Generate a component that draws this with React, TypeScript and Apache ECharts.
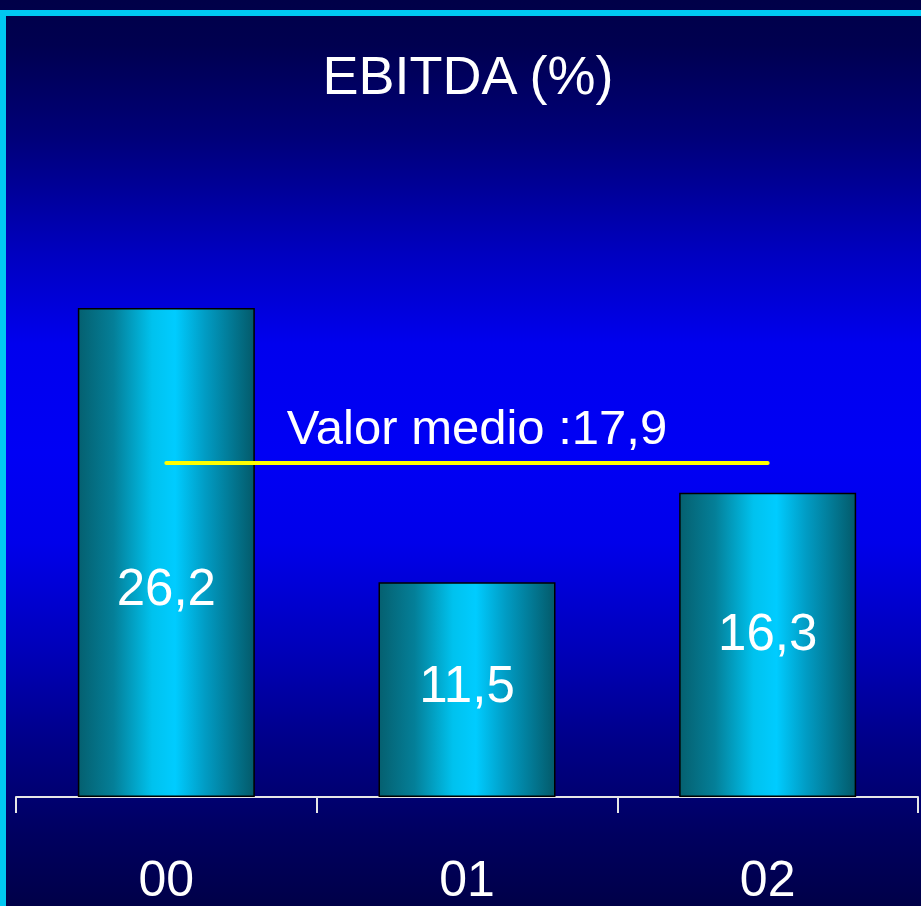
import React, { useEffect, useRef } from "react";
import * as echarts from "echarts";

const categories = ["00", "01", "02"];
const values = [26.2, 11.5, 16.3];
const valueLabels = ["26,2", "11,5", "16,3"];
const labelOffsetsY = [35, -5, -12];
const meanValue = 17.9;
const meanLabel = "Valor medio :17,9";
const titleText = "EBITDA (%)";

const FONT = "'Liberation Sans', Arial, sans-serif";

export default function App() {
  const ref = useRef<HTMLDivElement>(null);
  useEffect(() => {
    if (!ref.current) return;
    const chart = echarts.init(ref.current, null, { renderer: "svg" });
    const barGradient = new echarts.graphic.LinearGradient(0, 0, 1, 0, [
      { offset: 0, color: "#056070" },
      { offset: 0.2, color: "#047f98" },
      { offset: 0.42, color: "#00c2ee" },
      { offset: 0.55, color: "#00ccff" },
      { offset: 0.72, color: "#019cc4" },
      { offset: 1, color: "#035a6a" },
    ]);
    chart.setOption({
      animation: false,
      backgroundColor: "transparent",
      title: {
        text: titleText,
        left: 463,
        textAlign: "center",
        top: 43,
        textStyle: { color: "#ffffff", fontSize: 54, fontWeight: "normal", fontFamily: FONT },
      },
      graphic: [
        { type: "rect", left: 0, top: 10, shape: { width: 921, height: 6 }, style: { fill: "#00c8f2" }, z: 100 },
        { type: "rect", left: 0, top: 10, shape: { width: 6, height: 896 }, style: { fill: "#00c8f2" }, z: 100 },
      ],
      grid: { left: 16, right: 3, top: 237, bottom: 109, containLabel: false },
      xAxis: {
        type: "category",
        data: categories,
        axisLine: { show: true, lineStyle: { color: "#e6e6e6", width: 2 } },
        axisTick: { show: true, length: 16, lineStyle: { color: "#e6e6e6", width: 2 } },
        axisLabel: { color: "#ffffff", fontSize: 50, fontFamily: FONT, margin: 57 },
        splitLine: { show: false },
      },
      yAxis: {
        type: "value",
        min: 0,
        max: 30,
        show: false,
        splitLine: { show: false },
      },
      series: [
        {
          type: "bar",
          barWidth: 177,
          data: values.map((v, i) => ({
            value: v,
            label: { offset: [0, labelOffsetsY[i]], formatter: valueLabels[i] },
          })),
          itemStyle: { color: barGradient, borderColor: "#000000", borderWidth: 1.5 },
          label: {
            show: true,
            position: "inside",
            color: "#ffffff",
            fontSize: 51,
            fontFamily: FONT,
          },
          markLine: {
            silent: true,
            symbol: ["none", "none"],
            lineStyle: { color: "#ffff00", width: 4, type: "solid", cap: "round" },
            label: {
              show: true,
              position: "middle",
              formatter: meanLabel,
              color: "#ffffff",
              fontSize: 49,
              fontFamily: FONT,
              distance: 11,
              padding: [0, 0, 0, 20],
            },
            data: [[{ coord: [categories[0], meanValue] }, { coord: [categories[2], meanValue] }]],
          },
        },
      ],
    });
    return () => chart.dispose();
  }, []);
  return (
    <div
      ref={ref}
      style={{
        position: "fixed",
        left: 0,
        top: 0,
        width: 921,
        height: 906,
        background:
          "linear-gradient(to bottom, #000048 0%, #000050 5%, #000078 15%, #0000c0 28%, #0000ee 38%, #0000f5 50%, #0000ea 60%, #0000b8 72%, #000088 82%, #000060 92%, #000048 100%)",
      }}
    />
  );
}
